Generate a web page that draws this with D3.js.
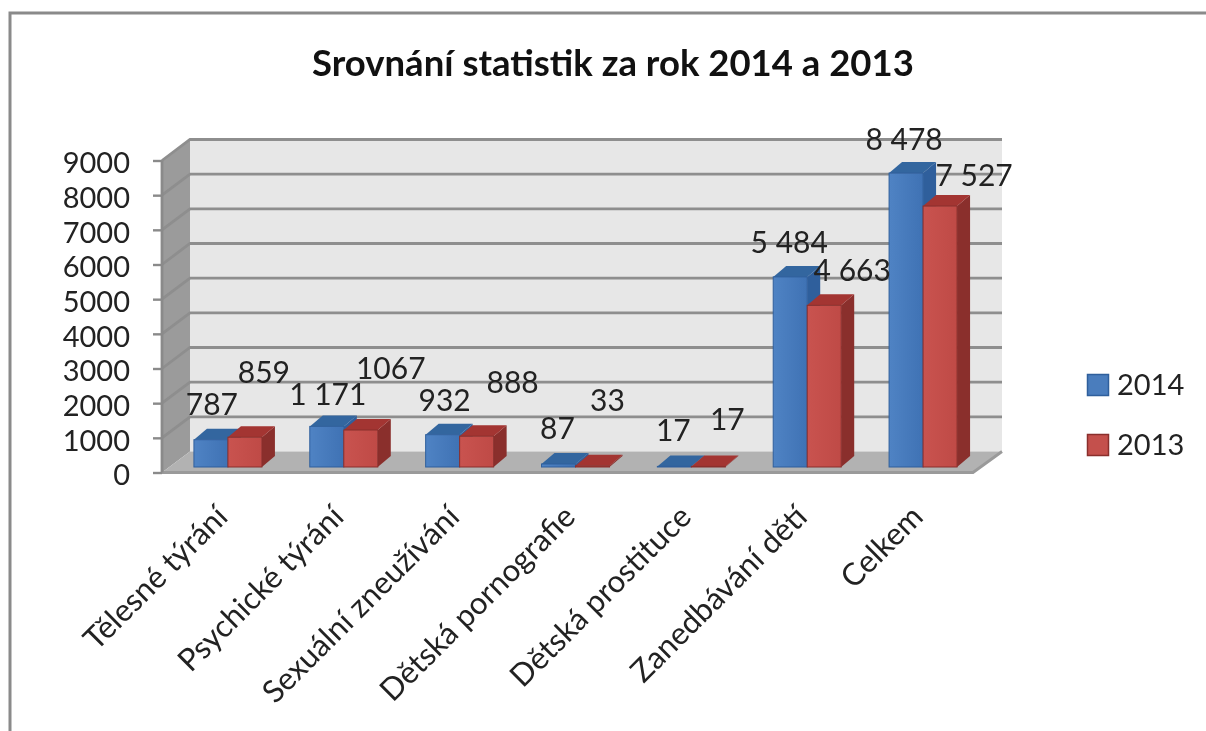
<!DOCTYPE html>
<html><head><meta charset="utf-8">
<style>html,body{margin:0;padding:0;background:#fff;overflow:hidden}svg{display:block;filter:blur(0.6px)}text{font-family:Lato,"Open Sans",sans-serif;fill:#222}</style>
<script src="https://cdn.jsdelivr.net/npm/d3@7/dist/d3.min.js"></script>
</head><body><svg id="c" width="1206" height="731"></svg>
<script>
const categories = ["Tělesné týrání","Psychické týrání","Sexuální zneužívání","Dětská pornografie","Dětská prostituce","Zanedbávání dětí","Celkem"];
const values2014 = [787,1171,932,87,17,5484,8478];
const values2013 = [859,1067,888,33,17,4663,7527];
const labels2014 = ["787","1 171","932","87","17","5 484","8 478"];
const labels2013 = ["859","1067","888","33","17","4 663","7 527"];
const seriesNames = ["2014","2013"];
const yTicks = [0,1000,2000,3000,4000,5000,6000,7000,8000,9000];
const chartTitle = "Srovnání statistik za rok 2014 a 2013";
// hand-placed data-label nudges, as in the source chart
const nudgeX2014 = [1,1,2,-1,-1,-1,-2];
const nudgeY2014 = [-35,-32,-34,-35,-36,-34,-34];
const nudgeX2013 = [19,30,36,15,19,28,34];
const nudgeY2013 = [-65,-62,-54,-65,-47,-35,-31];

const svg = d3.select("#c");
const defs = svg.append("defs");
const L=162,R=973,T=160.5,B=472.5,DX=28,DY=-21;
const y = d3.scaleLinear().domain([0,9000]).range([B,T]);
const x = d3.scaleBand().domain(categories).range([L,R]);
const pts = a => a.map(p=>p.join(",")).join(" ");

function grad(id,c1,c2){
  const g=defs.append("linearGradient").attr("id",id);
  g.append("stop").attr("offset","0%").attr("stop-color",c1);
  g.append("stop").attr("offset","100%").attr("stop-color",c2);
}
grad("gB","#4f83c4","#3f72b4");
grad("gR","#c9534f","#bf4a46");

// frame
svg.append("path").attr("d","M10,731V13H1206").attr("fill","none").attr("stroke","#8a8a8a").attr("stroke-width",3);

// title
svg.append("text").attr("x",613).attr("y",76).attr("text-anchor","middle").attr("font-size",36.5).attr("font-weight",700).style("fill","#111").text(chartTitle);

// walls
svg.append("polygon").attr("points",pts([[L,T],[L+DX,T+DY],[L+DX,B+DY],[L,B]])).attr("fill","#9b9b9b");
svg.append("polygon").attr("points",pts([[L+DX,T+DY],[R+DX+1,T+DY],[R+DX+1,B+DY],[L+DX,B+DY]])).attr("fill","#e7e7e7");
svg.append("polygon").attr("points",pts([[L,B],[L+DX,B+DY],[R+DX+1,B+DY],[R,B]])).attr("fill","#b2b2b2");

// gridlines on the wall, with the slanted part on the side wall
const grid = svg.append("g").attr("fill","none").attr("stroke","#8e8e8e").attr("stroke-width",2.8);
yTicks.slice(1).forEach(t=>{
  grid.append("path").attr("d",`M${L},${y(t)}L${L+DX},${y(t)+DY}H${R+DX+1}`);
});
grid.append("path").attr("d",`M${L},${B}H${R}L${R+DX+1},${B+DY}`).attr("stroke","#9a9a9a");
grid.append("path").attr("d",`M${L},${T}V${B}`).attr("stroke","#8a8a8a");

// axis
const axisG = svg.append("g").attr("transform",`translate(${L},0)`)
  .call(d3.axisLeft(y).tickValues(yTicks).tickFormat(d3.format("d")).tickSize(9).tickPadding(23));
axisG.select(".domain").remove();
axisG.selectAll("line").attr("stroke","#8a8a8a").attr("stroke-width",2.4);
axisG.selectAll("text").attr("font-size",29).attr("dy","0.42em").style("fill","#222");

// category labels
const catG = svg.append("g");
categories.forEach(c=>{
  catG.append("text").attr("transform",`translate(${x(c)+x.bandwidth()/2+2},${511}) rotate(-45)`)
    .attr("text-anchor","end").attr("font-size",31).attr("dy","0.35em").text(c);
});

// bars
const bw=34, bd=13, bdy=-11, baseShift=-5.5, barOffset=-26;
function bar(g,cx,v,side,topc,fill){
  const X0=cx, X1=cx+bw, Yb=y(0)+baseShift, Yt=y(v)+baseShift;
  g.append("polygon").attr("points",pts([[X1,Yb],[X1+bd,Yb+bdy],[X1+bd,Yt+bdy],[X1,Yt]])).attr("fill",side);
  g.append("polygon").attr("points",pts([[X0,Yt],[X0+bd,Yt+bdy],[X1+bd,Yt+bdy],[X1,Yt]])).attr("fill",topc);
  g.append("rect").attr("x",X0).attr("y",Yt).attr("width",bw).attr("height",Yb-Yt).attr("fill",fill).attr("stroke",side).attr("stroke-width",1);
}
const bars = svg.append("g");
categories.forEach((c,i)=>{
  const cx=x(c)+x.bandwidth()/2+barOffset;
  const g=bars.append("g");
  bar(g,cx,values2014[i],"#2f5f9c","#33669f","url(#gB)");
  bar(g,cx+bw,values2013[i],"#8a2f2c","#a33532","url(#gR)");
});

// data labels
const lab = svg.append("g").attr("font-size",30).attr("text-anchor","middle");
categories.forEach((c,i)=>{
  const cx=x(c)+x.bandwidth()/2+barOffset;
  lab.append("text").attr("x",cx+bw/2+nudgeX2014[i]).attr("y",y(values2014[i])+baseShift+nudgeY2014[i]).attr("dy","0.35em").text(labels2014[i]);
  lab.append("text").attr("x",cx+bw*1.5+nudgeX2013[i]).attr("y",y(values2013[i])+baseShift+nudgeY2013[i]).attr("dy","0.35em").text(labels2013[i]);
});

// legend
const legY = d3.scalePoint().domain(seriesNames).range([385,445]);
const legFill = d3.scaleOrdinal().domain(seriesNames).range(["#4a7dbd","#c4504c"]);
const legStroke = d3.scaleOrdinal().domain(seriesNames).range(["#2f5f9c","#8a2f2c"]);
const leg = svg.append("g");
seriesNames.forEach(s=>{
  leg.append("rect").attr("x",1087.5).attr("y",legY(s)-10.5).attr("width",21).attr("height",21).attr("fill",legFill(s)).attr("stroke",legStroke(s)).attr("stroke-width",1.5);
  leg.append("text").attr("x",1117).attr("y",legY(s)).attr("dy","0.35em").attr("font-size",29).text(s);
});
</script></body></html>
